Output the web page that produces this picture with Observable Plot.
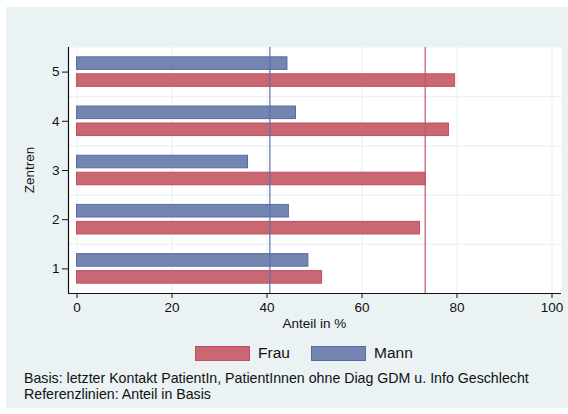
<!DOCTYPE html>
<html>
<head>
<meta charset="utf-8">
<script src="https://cdn.jsdelivr.net/npm/d3@7"></script>
<script src="https://cdn.jsdelivr.net/npm/@observablehq/plot@0.6"></script>
<style>
  html, body { margin: 0; padding: 0; background: #ffffff; }
  body { width: 568px; height: 414px; position: relative; overflow: hidden; font-family: "Liberation Sans", Arial, sans-serif; }
  #panel { position: absolute; left: 6px; top: 7px; width: 562px; height: 401px; background: #EAF2F3; }
  #chart { position: absolute; left: 0; top: 0; }
  .sw { position: absolute; height: 13px; box-sizing: content-box; }
  .lt { position: absolute; font-size: 15.5px; color: #111; line-height: 18px; }
  #caption { position: absolute; left: 24px; top: 371px; font-size: 14.2px; line-height: 15.5px; color: #111; white-space: nowrap; }
  #xlab { position: absolute; left: 68px; width: 493px; top: 316px; text-align: center; font-size: 13.5px; color: #111; }
  #ylab { position: absolute; left: 29px; top: 170px; font-size: 13.5px; color: #111; transform: translate(-50%, -50%) rotate(-90deg); white-space: nowrap; }
</style>
</head>
<body>
<div id="panel"></div>
<div id="chart"></div>
<div id="xlab"></div>
<div id="ylab"></div>
<div id="legend"></div>
<div id="caption"></div>
<script>
// ---- data ----
const zentren = [1, 2, 3, 4, 5];
const frau = [51.6, 72.2, 73.4, 78.3, 79.6];
const mann = [48.7, 44.6, 36.0, 46.1, 44.3];
const refFrau = 73.3;
const refMann = 40.6;
const xTicks = [0, 20, 40, 60, 80, 100];
const seriesNames = ["Frau", "Mann"];
const xTitle = "Anteil in %";
const yTitle = "Zentren";
const captionLines = [
  "Basis: letzter Kontakt PatientIn, PatientInnen ohne Diag GDM u. Info Geschlecht",
  "Referenzlinien: Anteil in Basis"
];

// ---- styles ----
const colFrau = "#C96873", strokeFrau = "#C04E5E", refColFrau = "#C65566";
const colMann = "#7385B0", strokeMann = "#546CA3", refColMann = "#5A6EAA";
const gridCol = "#EAF2F3";

const rows = [];
zentren.forEach((z, i) => {
  rows.push({z, sex: "Mann", v: mann[i], lo: z + 0.045, hi: z + 0.30});
  rows.push({z, sex: "Frau", v: frau[i], lo: z - 0.30, hi: z - 0.045});
});

const chart = Plot.plot({
  width: 568,
  height: 340,
  marginLeft: 68,
  marginRight: 7,
  marginTop: 47,
  marginBottom: 47,
  style: {background: "transparent", fontFamily: "Liberation Sans, Arial, sans-serif", fontSize: "13.5px", color: "#111"},
  x: {domain: [-1.8, 102]},
  y: {domain: [0.5, 5.5]},
  marks: [
    Plot.frame({fill: "white", stroke: "none"}),
    Plot.gridX(xTicks, {stroke: gridCol, strokeOpacity: 1, strokeWidth: 1.2}),
    Plot.gridY([1.5, 2.5, 3.5, 4.5], {stroke: gridCol, strokeOpacity: 1, strokeWidth: 1.2}),
    Plot.rectX(rows, {
      x1: 0, x2: "v", y1: "lo", y2: "hi",
      fill: d => d.sex === "Frau" ? colFrau : colMann,
      stroke: d => d.sex === "Frau" ? strokeFrau : strokeMann,
      strokeWidth: 1
    }),
    Plot.ruleX([refMann], {stroke: refColMann, strokeWidth: 1.2}),
    Plot.ruleX([refFrau], {stroke: refColFrau, strokeWidth: 1.2}),
    Plot.ruleX([-1.8], {stroke: "#111", strokeWidth: 1.2}),
    Plot.ruleY([0.5], {stroke: "#111", strokeWidth: 1.2}),
    Plot.axisX(xTicks, {tickSize: 5, tickPadding: 4, fontSize: 13.5, label: null, stroke: "#111"}),
    Plot.axisY(zentren, {tickSize: 6, tickPadding: 3, fontSize: 13.5, label: null, stroke: "#111", tickFormat: d => String(d)})
  ]
});
document.getElementById("chart").appendChild(chart);
document.getElementById("xlab").textContent = xTitle;
document.getElementById("ylab").textContent = yTitle;

// ---- legend ----
const legend = document.getElementById("legend");
const legItems = [
  {name: seriesNames[0], fill: colFrau, stroke: strokeFrau, sx: 195, tx: 258},
  {name: seriesNames[1], fill: colMann, stroke: strokeMann, sx: 311, tx: 374}
];
legItems.forEach(it => {
  const sw = document.createElement("div");
  sw.className = "sw";
  sw.style.left = it.sx + "px"; sw.style.top = "346px"; sw.style.width = "53px";
  sw.style.background = it.fill; sw.style.border = "1px solid " + it.stroke;
  legend.appendChild(sw);
  const t = document.createElement("div");
  t.className = "lt";
  t.style.left = it.tx + "px"; t.style.top = "344px";
  t.textContent = it.name;
  legend.appendChild(t);
});

// ---- caption ----
const cap = document.getElementById("caption");
captionLines.forEach(l => { const d = document.createElement("div"); d.textContent = l; cap.appendChild(d); });
</script>
</body>
</html>
